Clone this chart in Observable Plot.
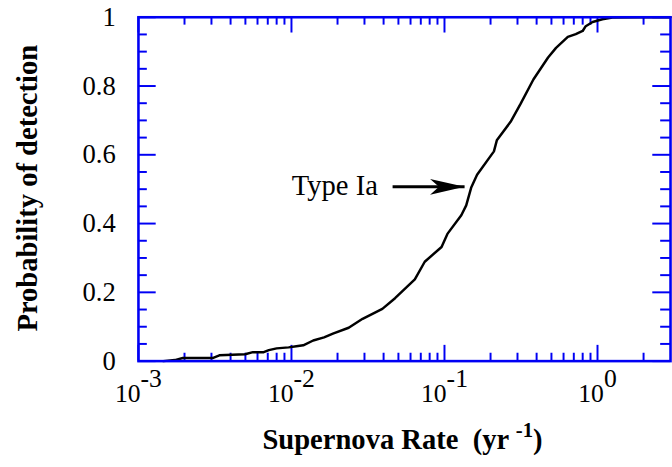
<!DOCTYPE html>
<html>
<head>
<meta charset="utf-8">
<script src="https://cdn.jsdelivr.net/npm/d3@7"></script>
<script src="https://cdn.jsdelivr.net/npm/@observablehq/plot@0.6"></script>
<style>
  html, body { margin: 0; padding: 0; background: #fff; overflow: hidden; }
  svg text { white-space: pre; }
</style>
</head>
<body>
<div id="chart"></div>
<script>
// Curve: supernova rate (yr^-1) vs probability of detection (Type Ia)
const rate = [0.00145, 0.00173, 0.00195, 0.00305, 0.00338, 0.00498, 0.0056, 0.00659, 0.00711, 0.0080,
  0.00958, 0.01076, 0.01194, 0.01387, 0.01633, 0.01866, 0.02366, 0.02917, 0.03926, 0.04753,
  0.0640, 0.0743, 0.0957, 0.1045, 0.1288, 0.1387, 0.1493, 0.1633, 0.2104, 0.2198,
  0.2704, 0.3141, 0.3811, 0.4753, 0.5358, 0.6397, 0.7211, 0.7998, 0.8375, 0.9290,
  1.076, 1.250, 1.95, 3.0];
const prob = [0, 0.003, 0.009, 0.009, 0.017, 0.020, 0.026, 0.026, 0.032, 0.037,
  0.040, 0.043, 0.046, 0.060, 0.069, 0.080, 0.097, 0.123, 0.152, 0.183,
  0.238, 0.289, 0.332, 0.370, 0.424, 0.453, 0.504, 0.542, 0.610, 0.642,
  0.696, 0.748, 0.819, 0.883, 0.911, 0.943, 0.951, 0.960, 0.974, 0.986,
  0.994, 0.999, 1.0, 1.0];

// Axis ticks and labels
const xMajor = [0.001, 0.01, 0.1, 1];
const xMajorLabels = ["10^{-3}", "10^{-2}", "10^{-1}", "10^{0}"];
const xMinor = [0.002, 0.003, 0.004, 0.005, 0.006, 0.007, 0.008, 0.009,
  0.02, 0.03, 0.04, 0.05, 0.06, 0.07, 0.08, 0.09,
  0.2, 0.3, 0.4, 0.5, 0.6, 0.7, 0.8, 0.9, 2];
const yMajor = [0, 0.2, 0.4, 0.6, 0.8, 1];
const yMajorLabels = ["0", "0.2", "0.4", "0.6", "0.8", "1"];
const yMinor = [0.05, 0.1, 0.15, 0.25, 0.3, 0.35, 0.45, 0.5, 0.55, 0.65, 0.7, 0.75, 0.85, 0.9, 0.95];

// Annotation
const annoText = ["Type Ia"];
const annoTextX = [0.0367];
const annoTextY = [0.509];
const arrowFromX = [0.0458];
const arrowToX = [0.1353];
const arrowY = [0.507];

const xTitle = "Supernova Rate  (yr ^{-1})";
const yTitle = "Probability of detection";

const W = 682, H = 467, ML = 140, MR = 2, MT = 17, MB = 101;
const plotW = W - ML - MR, plotH = H - MT - MB;
const axisColor = "#0000f4";

const curve = rate.map((r, i) => ({rate: r, prob: prob[i]}));
const xLab = xMajor.map((v, i) => ({v, label: xMajorLabels[i]}));
const yLab = yMajor.map((v, i) => ({v, label: yMajorLabels[i]}));
const anno = annoText.map((t, i) => ({t, x: annoTextX[i], y: annoTextY[i], x1: arrowFromX[i], x2: arrowToX[i], ya: arrowY[i]}));

const arrowHead = {
  draw(context, size) {
    context.moveTo(0, 0);
    context.lineTo(-35, -8);
    context.lineTo(-26, 0);
    context.lineTo(-35, 8);
    context.closePath();
  }
};

const chart = Plot.plot({
  width: W, height: H,
  marginLeft: ML, marginRight: MR, marginTop: MT, marginBottom: MB,
  x: {type: "log", domain: [0.001, 3], axis: null},
  y: {domain: [0, 1], axis: null},
  style: {fontFamily: "'Liberation Serif', 'DejaVu Serif', serif", background: "white", color: "black"},
  marks: [
    // bottom ticks
    Plot.tickX(xMajor, {x: d => d, insetTop: plotH - 16, stroke: axisColor, strokeWidth: 2}),
    Plot.tickX(xMinor, {x: d => d, insetTop: plotH - 8, stroke: axisColor, strokeWidth: 2}),
    // top ticks
    Plot.tickX(xMajor, {x: d => d, insetBottom: plotH - 16, stroke: axisColor, strokeWidth: 2}),
    Plot.tickX(xMinor, {x: d => d, insetBottom: plotH - 8, stroke: axisColor, strokeWidth: 2}),
    // left ticks
    Plot.tickY(yMajor, {y: d => d, insetRight: plotW - 18, stroke: axisColor, strokeWidth: 2}),
    Plot.tickY(yMinor, {y: d => d, insetRight: plotW - 9, stroke: axisColor, strokeWidth: 2}),
    // right ticks
    Plot.tickY(yMajor, {y: d => d, insetLeft: plotW - 18, stroke: axisColor, strokeWidth: 2}),
    Plot.tickY(yMinor, {y: d => d, insetLeft: plotW - 10, stroke: axisColor, strokeWidth: 2}),
    // curve
    Plot.line(curve, {x: "rate", y: "prob", stroke: "black", strokeWidth: 2.5, strokeLinejoin: "round"}),
    // frame
    Plot.frame({stroke: axisColor, strokeWidth: 2.6}),
    // tick labels
    Plot.text(xLab, {x: "v", text: "label", frameAnchor: "bottom", dy: 33, fontSize: 26, textAnchor: "middle", lineAnchor: "middle"}),
    Plot.text(yLab, {y: "v", text: "label", frameAnchor: "left", dx: -23, fontSize: 27, textAnchor: "end", lineAnchor: "middle"}),
    // axis titles
    Plot.text([xTitle], {text: d => d, frameAnchor: "bottom", dy: 80, dx: -2, fontSize: 29, fontWeight: "bold", textAnchor: "middle", lineAnchor: "middle"}),
    Plot.text([yTitle], {text: d => d, frameAnchor: "left", rotate: -90, dx: -112, dy: -1, fontSize: 29, fontWeight: "bold", textAnchor: "middle", lineAnchor: "middle"}),
    // annotation
    Plot.link(anno, {x1: "x1", x2: "x2", y1: "ya", y2: "ya", stroke: "black", strokeWidth: 3}),
    Plot.dot(anno, {x: "x2", y: "ya", symbol: arrowHead, fill: "black", stroke: "none", r: 5}),
    Plot.text(anno, {x: "x", y: "y", text: "t", textAnchor: "end", lineAnchor: "middle", fontSize: 29})
  ]
});

// Superscript handling: "base^{exp}rest"
d3.select(chart).selectAll("text").each(function() {
  const el = d3.select(this);
  const s = el.text();
  const m = s.match(/^(.*)\^\{([^}]*)\}(.*)$/);
  if (!m) return;
  const g = this.closest("g");
  const bold = (el.attr("font-weight") === "bold") || (g && g.getAttribute("font-weight") === "bold");
  const raise = bold ? 12 : 15;
  const supSize = bold ? 21 : 26;
  el.text(m[1]);
  el.append("tspan").attr("dy", -raise).attr("font-size", supSize).text(m[2]);
  if (m[3]) el.append("tspan").attr("dy", raise).text(m[3]);
});

document.getElementById("chart").appendChild(chart);
</script>
</body>
</html>
